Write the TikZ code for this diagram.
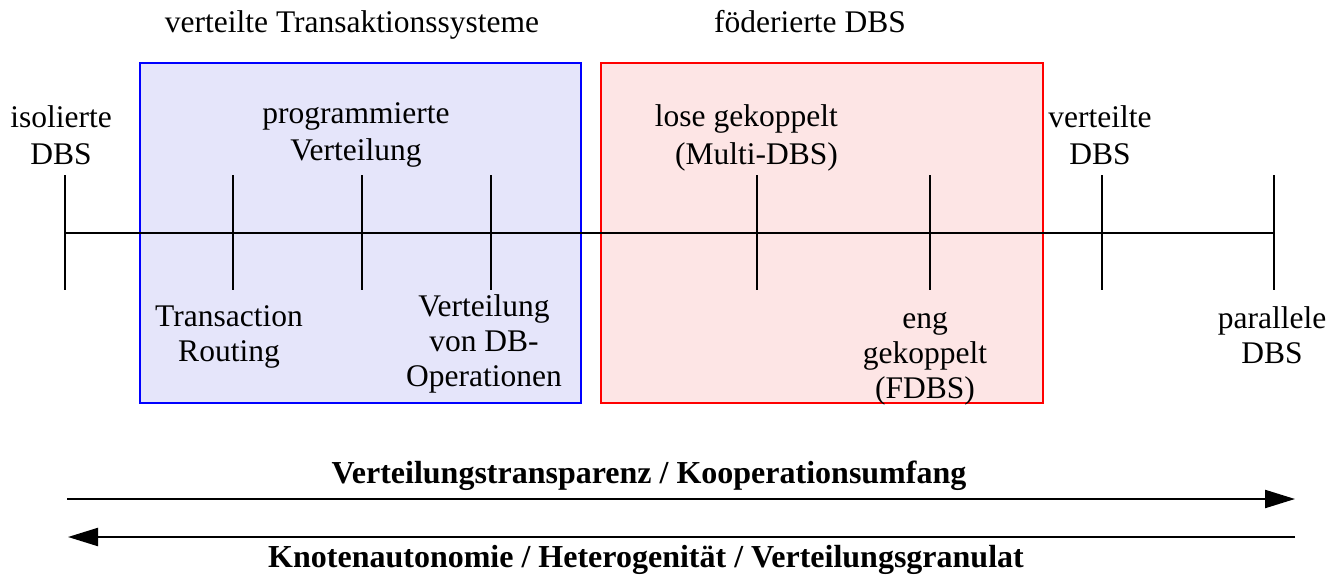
\documentclass[tikz,border=0pt]{standalone}
\usepackage{fontspec}
\setmainfont{Liberation Serif}
\usetikzlibrary{arrows.meta}
\definecolor{bluefill}{RGB}{229,229,250}
\definecolor{redfill}{RGB}{253,229,229}
\tikzset{
  lbl/.style={align=center, inner sep=0pt, font=\fontsize{31.5}{35}\selectfont},
  toplbl/.style={lbl, font=\fontsize{31.5}{37.5}\selectfont},
  ttl/.style={inner sep=0pt, anchor=base, font=\fontsize{31.5}{35}\selectfont},
  boldlbl/.style={inner sep=0pt, anchor=base, font=\fontsize{32}{35}\selectfont\bfseries},
  tickline/.style={line width=2pt},
  axis/.style={line width=2.2pt},
  bigarrow/.style={line width=2.2pt, -{Triangle[length=30pt,width=18pt]}},
}
\begin{document}
\begin{tikzpicture}[x=1pt,y=-1pt]
\useasboundingbox (0,0) rectangle (1337,575);
% boxes
\node[draw=blue, fill=bluefill, line width=1.8pt, minimum width=441pt, minimum height=340pt, inner sep=0pt] (vts) at (360.5,233) {};
\node[draw=red, fill=redfill, line width=1.8pt, minimum width=442pt, minimum height=340pt, inner sep=0pt] (fdbs) at (822,233) {};
% axis
\coordinate (a0) at (65,233);
\coordinate (a1) at (1274,233);
\draw[axis] (a0) -- (a1);
\foreach \x in {65,233,362,491,757,930,1102,1274}{
  \draw[tickline] (\x,175) -- (\x,290);
}
% titles
\node[ttl] (t1) at (352,33) {verteilte Transaktionssysteme};
\node[ttl] (t2) at (810,33) {föderierte DBS};
% labels
\node[toplbl] (iso) at (61,135) {isolierte\\DBS};
\node[toplbl] (prog) at (356,135) {programmierte\\Verteilung};
\node[toplbl, align=right, anchor=east] (lose) at (838,138) {lose gekoppelt\\(Multi-DBS)};
\node[toplbl] (vdbs) at (1100,135) {verteilte\\DBS};
\node[lbl] (tr) at (229,337) {Transaction\\Routing};
\node[lbl] (vdb) at (484,343.5) {Verteilung\\von DB-\\Operationen};
\node[lbl] (eng) at (925,359) {eng\\gekoppelt\\(FDBS)};
\node[lbl] (par) at (1272,335) {parallele\\DBS};
% arrows
\coordinate (l1) at (67,499);
\coordinate (r1) at (1295,499);
\coordinate (l2) at (68,537);
\coordinate (r2) at (1295,537);
\draw[bigarrow] (l1) -- (r1);
\draw[bigarrow] (r2) -- (l2);
\node[boldlbl] (vt) at (649,483) {Verteilungstransparenz / Kooperationsumfang};
\node[boldlbl] (ka) at (646,567) {Knotenautonomie / Heterogenität / Verteilungsgranulat};
\end{tikzpicture}
\end{document}
